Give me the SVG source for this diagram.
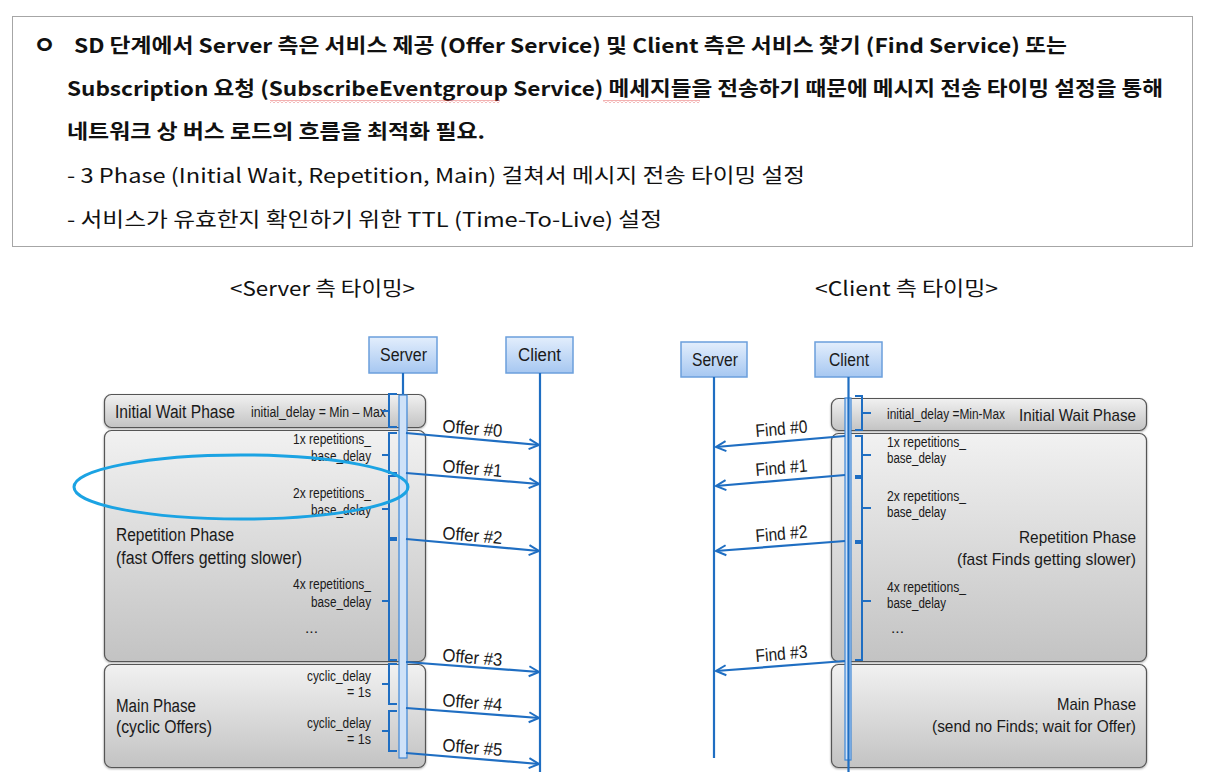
<svg xmlns="http://www.w3.org/2000/svg" width="1207" height="776" viewBox="0 0 1207 776">
<style>
.kr{font-family:"Noto Sans CJK KR","Noto Sans",sans-serif;fill:#111}
.kb{font-weight:700;font-size:20px}
.kn{font-weight:400;font-size:20px}
.hd{font-family:"Noto Sans CJK KR","Noto Sans",sans-serif;font-size:20px;fill:#111}
.d{font-family:"Liberation Sans Narrow","Liberation Sans",Arial,sans-serif;fill:#1a1a1a}
.l{font-size:18px}
.s{font-size:14px}
.m{font-size:17px}
.ph{stroke:#555;stroke-width:1.2;fill:url(#phg);filter:url(#sh)}
.hb{stroke:#6b9fdc;stroke-width:1.5;fill:url(#hbg)}
.ln{stroke:#1f6ec2;stroke-width:2.2;fill:none}
.br{stroke:#1f6ec2;stroke-width:2;fill:none}
.bar{fill:#cfe2f8;stroke:#3c86d6;stroke-width:1.2}
.ar{stroke:#1f6ec2;stroke-width:2.2;fill:none;marker-end:url(#ah)}
</style>
<defs>
<linearGradient id="phg" x1="0" y1="0" x2="0" y2="1"><stop offset="0" stop-color="#f1f1f1"/><stop offset="1" stop-color="#c3c3c3"/></linearGradient>
<linearGradient id="hbg" x1="0" y1="0" x2="0" y2="1"><stop offset="0" stop-color="#e3eefc"/><stop offset="1" stop-color="#a6c7f1"/></linearGradient>
<filter id="sh" x="-5%" y="-5%" width="110%" height="115%"><feDropShadow dx="0" dy="1" stdDeviation="1" flood-color="#000" flood-opacity="0.35"/></filter>
<marker id="ah" markerWidth="13" markerHeight="13" refX="11" refY="6.5" orient="auto" markerUnits="userSpaceOnUse"><path d="M1,1.5 L11,6.5 L1,11.5" fill="none" stroke="#1f6ec2" stroke-width="2"/></marker>
<pattern id="squig" width="4" height="3" patternUnits="userSpaceOnUse"><path d="M0,2.5 L2,0.5 L4,2.5" fill="none" stroke="#e03c3c" stroke-width="0.8"/></pattern>
</defs>
<rect width="1207" height="776" fill="#fff"/>

<g id="intro">
<rect x="12.5" y="16.5" width="1180" height="230" fill="#fff" stroke="#a6a6a6" stroke-width="1"/>
<text class="kr" x="33" y="54" font-size="25" font-weight="700">ㅇ</text>
<text class="kr kb" x="74" y="53" textLength="993" lengthAdjust="spacingAndGlyphs">SD 단계에서 Server 측은 서비스 제공 (Offer Service) 및 Client 측은 서비스 찾기 (Find Service) 또는</text>
<text class="kr kb" x="67" y="96" textLength="1096" lengthAdjust="spacingAndGlyphs">Subscription 요청 (SubscribeEventgroup Service) 메세지들을 전송하기 때문에 메시지 전송 타이밍 설정을 통해</text>
<rect x="270" y="100" width="230" height="3" fill="url(#squig)"/>
<rect x="603" y="100" width="97" height="3" fill="url(#squig)"/>
<text class="kr kb" x="67" y="139" textLength="418" lengthAdjust="spacingAndGlyphs">네트워크 상 버스 로드의 흐름을 최적화 필요.</text>
<text class="kr kn" x="67" y="183" textLength="738" lengthAdjust="spacingAndGlyphs">- 3 Phase (Initial Wait, Repetition, Main) 걸쳐서 메시지 전송 타이밍 설정</text>
<text class="kr kn" x="67" y="227" textLength="595" lengthAdjust="spacingAndGlyphs">- 서비스가 유효한지 확인하기 위한 TTL (Time-To-Live) 설정</text>
</g>

<text class="hd" x="230" y="296" textLength="185" lengthAdjust="spacingAndGlyphs">&lt;Server 측 타이밍&gt;</text>
<text class="hd" x="815" y="296" textLength="183" lengthAdjust="spacingAndGlyphs">&lt;Client 측 타이밍&gt;</text>

<!-- LEFT: server side -->
<g id="L-initial">
<rect class="ph" x="104.5" y="394.5" width="321" height="33" rx="7"/>
<text class="d l" x="115" y="418" textLength="120" lengthAdjust="spacingAndGlyphs">Initial Wait Phase</text>
<text class="d s" x="251" y="417" textLength="135" lengthAdjust="spacingAndGlyphs">initial_delay = Min – Max</text>
</g>
<g id="L-repetition">
<rect class="ph" x="104.5" y="430.5" width="321" height="231" rx="7"/>
<text class="d l" x="116" y="541" textLength="118" lengthAdjust="spacingAndGlyphs">Repetition Phase</text>
<text class="d l" x="116" y="564" textLength="186" lengthAdjust="spacingAndGlyphs">(fast Offers getting slower)</text>
<text class="d s" x="293" y="444" textLength="78" lengthAdjust="spacingAndGlyphs">1x repetitions_</text>
<text class="d s" x="311" y="461" textLength="60" lengthAdjust="spacingAndGlyphs">base_delay</text>
<text class="d s" x="293" y="498" textLength="78" lengthAdjust="spacingAndGlyphs">2x repetitions_</text>
<text class="d s" x="311" y="515" textLength="60" lengthAdjust="spacingAndGlyphs">base_delay</text>
<text class="d s" x="293" y="589" textLength="78" lengthAdjust="spacingAndGlyphs">4x repetitions_</text>
<text class="d s" x="311" y="607" textLength="60" lengthAdjust="spacingAndGlyphs">base_delay</text>
<text class="d s" x="305" y="633" textLength="13" lengthAdjust="spacingAndGlyphs">...</text>
</g>
<g id="L-main">
<rect class="ph" x="104.5" y="664.5" width="321" height="103" rx="7"/>
<text class="d l" x="116" y="712" textLength="80" lengthAdjust="spacingAndGlyphs">Main Phase</text>
<text class="d l" x="116" y="733" textLength="96" lengthAdjust="spacingAndGlyphs">(cyclic Offers)</text>
<text class="d s" x="307" y="681" textLength="64" lengthAdjust="spacingAndGlyphs">cyclic_delay</text>
<text class="d s" x="347" y="697" textLength="24" lengthAdjust="spacingAndGlyphs">= 1s</text>
<text class="d s" x="307" y="728" textLength="64" lengthAdjust="spacingAndGlyphs">cyclic_delay</text>
<text class="d s" x="347" y="744" textLength="24" lengthAdjust="spacingAndGlyphs">= 1s</text>
</g>
<g id="L-server">
<rect class="hb" x="369" y="337" width="68" height="36"/>
<text class="d l" x="380" y="361" textLength="47" lengthAdjust="spacingAndGlyphs">Server</text>
</g>
<g id="L-client">
<rect class="hb" x="506" y="337" width="67" height="36"/>
<text class="d l" x="518" y="361" textLength="43" lengthAdjust="spacingAndGlyphs">Client</text>
</g>

<g id="L-connectors">
<line class="ln" x1="403" y1="373" x2="403" y2="395"/>
<rect class="bar" x="399" y="395" width="8" height="363"/>
<line class="ln" x1="540" y1="373" x2="540" y2="772"/>
<path class="br" d="M397,394 H389 V427 H397 M389,411 H382"/>
<path class="br" d="M397,433 H389 V473 H397 M389,455 H382"/>
<path class="br" d="M397,476 H389 V538 H397 M389,509 H382"/>
<path class="br" d="M397,540 H389 V660 H397 M389,601 H382"/>
<path class="br" d="M397,664 H389 V704 H397 M389,684 H382"/>
<path class="br" d="M397,711 H389 V751 H397 M389,731 H382"/>
<line class="ar" x1="406" y1="433" x2="539" y2="445"/>
<line class="ar" x1="406" y1="473" x2="539" y2="484"/>
<line class="ar" x1="406" y1="539" x2="539" y2="551"/>
<line class="ar" x1="406" y1="662" x2="539" y2="672"/>
<line class="ar" x1="406" y1="708" x2="539" y2="718"/>
<line class="ar" x1="406" y1="753" x2="539" y2="764"/>
<text class="d l" x="442" y="432" textLength="60" lengthAdjust="spacingAndGlyphs" transform="rotate(4.9 442 432)">Offer #0</text>
<text class="d l" x="442" y="472" textLength="60" lengthAdjust="spacingAndGlyphs" transform="rotate(4.9 442 472)">Offer #1</text>
<text class="d l" x="442" y="539" textLength="60" lengthAdjust="spacingAndGlyphs" transform="rotate(4.9 442 539)">Offer #2</text>
<text class="d l" x="442" y="661" textLength="60" lengthAdjust="spacingAndGlyphs" transform="rotate(4.9 442 661)">Offer #3</text>
<text class="d l" x="442" y="706" textLength="60" lengthAdjust="spacingAndGlyphs" transform="rotate(4.9 442 706)">Offer #4</text>
<text class="d l" x="442" y="751" textLength="60" lengthAdjust="spacingAndGlyphs" transform="rotate(4.9 442 751)">Offer #5</text>
</g>

<ellipse id="highlight" cx="241" cy="487" rx="167" ry="32" fill="none" stroke="#1ba3e3" stroke-width="3"/>

<!-- RIGHT: client side -->
<g id="R-initial">
<rect class="ph" x="831.5" y="398.5" width="315" height="32" rx="7"/>
<text class="d s" x="887" y="419" textLength="118" lengthAdjust="spacingAndGlyphs">initial_delay =Min-Max</text>
<text class="d m" x="1019" y="421" textLength="117" lengthAdjust="spacingAndGlyphs">Initial Wait Phase</text>
</g>
<g id="R-repetition">
<rect class="ph" x="831.5" y="433.5" width="315" height="228" rx="7"/>
<text class="d s" x="887" y="447" textLength="79" lengthAdjust="spacingAndGlyphs">1x repetitions_</text>
<text class="d s" x="887" y="463" textLength="59" lengthAdjust="spacingAndGlyphs">base_delay</text>
<text class="d s" x="887" y="501" textLength="79" lengthAdjust="spacingAndGlyphs">2x repetitions_</text>
<text class="d s" x="887" y="517" textLength="59" lengthAdjust="spacingAndGlyphs">base_delay</text>
<text class="d s" x="887" y="592" textLength="79" lengthAdjust="spacingAndGlyphs">4x repetitions_</text>
<text class="d s" x="887" y="608" textLength="59" lengthAdjust="spacingAndGlyphs">base_delay</text>
<text class="d s" x="891" y="633" textLength="13" lengthAdjust="spacingAndGlyphs">...</text>
<text class="d m" x="1019" y="543" textLength="117" lengthAdjust="spacingAndGlyphs">Repetition Phase</text>
<text class="d m" x="957" y="565" textLength="179" lengthAdjust="spacingAndGlyphs">(fast Finds getting slower)</text>
</g>
<g id="R-main">
<rect class="ph" x="831.5" y="664.5" width="315" height="103" rx="7"/>
<text class="d m" x="1057" y="710" textLength="79" lengthAdjust="spacingAndGlyphs">Main Phase</text>
<text class="d m" x="932" y="732" textLength="204" lengthAdjust="spacingAndGlyphs">(send no Finds; wait for Offer)</text>
</g>
<g id="R-server">
<rect class="hb" x="681" y="342" width="66" height="35"/>
<text class="d l" x="692" y="366" textLength="46" lengthAdjust="spacingAndGlyphs">Server</text>
</g>
<g id="R-client">
<rect class="hb" x="815" y="342" width="67" height="35"/>
<text class="d l" x="829" y="366" textLength="40" lengthAdjust="spacingAndGlyphs">Client</text>
</g>

<g id="R-connectors">
<line class="ln" x1="714" y1="377" x2="714" y2="758"/>
<rect class="bar" x="845" y="398" width="6" height="362"/>
<line class="ln" x1="848.5" y1="377" x2="848.5" y2="772"/>
<path class="br" d="M855,396 H862 V430 H855 M862,413 H871"/>
<path class="br" d="M855,436 H862 V476 H855 M862,455 H871"/>
<path class="br" d="M855,478 H862 V541 H855 M862,508 H871"/>
<path class="br" d="M855,543 H862 V660 H855 M862,601 H871"/>
<line class="ar" x1="845" y1="436" x2="716" y2="447"/>
<line class="ar" x1="845" y1="475" x2="716" y2="486"/>
<line class="ar" x1="845" y1="541" x2="716" y2="551"/>
<line class="ar" x1="845" y1="661" x2="716" y2="671"/>
<text class="d l" x="756" y="437" textLength="52" lengthAdjust="spacingAndGlyphs" transform="rotate(-4.9 756 437)">Find #0</text>
<text class="d l" x="756" y="476" textLength="52" lengthAdjust="spacingAndGlyphs" transform="rotate(-4.9 756 476)">Find #1</text>
<text class="d l" x="756" y="542" textLength="52" lengthAdjust="spacingAndGlyphs" transform="rotate(-4.9 756 542)">Find #2</text>
<text class="d l" x="756" y="662" textLength="52" lengthAdjust="spacingAndGlyphs" transform="rotate(-4.9 756 662)">Find #3</text>
</g>
</svg>
